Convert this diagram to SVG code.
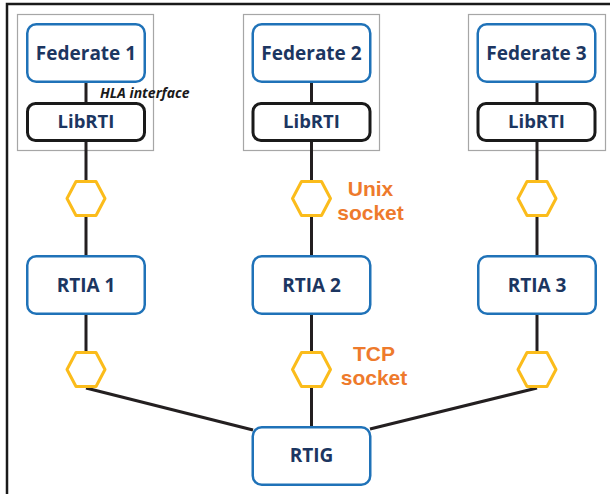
<svg xmlns="http://www.w3.org/2000/svg" width="610" height="494" viewBox="0 0 610 494">
<style>
.frame{fill:none;stroke:#1a1a1a;stroke-width:2.5}
.group{fill:#fff;stroke:#a6a6a6;stroke-width:1.2}
.fed{fill:#fff;stroke:#1f72b8;stroke-width:2.5}
.lib{fill:#fff;stroke:#1a1a1a;stroke-width:3}
.hex{fill:#fff;stroke:#fbbc1b;stroke-width:3;stroke-linejoin:round}
.conn{stroke:#231f20;stroke-width:3;fill:none}
.lbl{font-family:"Open Sans","Noto Sans",sans-serif;font-weight:bold;fill:#1c3661;text-anchor:middle}
.sock{font-family:"Liberation Sans",Arial,sans-serif;font-weight:bold;fill:#ee7a2c;font-size:21px;text-anchor:middle}
.hla{font-family:"Open Sans","Noto Sans",sans-serif;font-weight:bold;font-style:italic;font-size:14px;fill:#1a1a1a}
</style>
<defs>
<polygon id="hx" points="-19,0 -10,-17 10,-17 19,0 10,17 -10,17"/>
</defs>
<path class="frame" d="M7,494 V4 H610"/>
<g id="group1"><rect class="group" x="17.5" y="14.5" width="136" height="136"/></g>
<g id="group2"><rect class="group" x="243.5" y="14.5" width="136" height="136"/></g>
<g id="group3"><rect class="group" x="468.5" y="14.5" width="137" height="136"/></g>
<g id="connectors">
<line class="conn" x1="86" y1="83" x2="86" y2="255"/>
<line class="conn" x1="311.5" y1="83" x2="311.5" y2="255"/>
<line class="conn" x1="537" y1="83" x2="537" y2="255"/>
<line class="conn" x1="86" y1="315" x2="86" y2="388"/>
<line class="conn" x1="311.5" y1="315" x2="311.5" y2="426"/>
<line class="conn" x1="537" y1="315" x2="537" y2="388"/>
<line class="conn" x1="86" y1="388" x2="253" y2="430"/>
<line class="conn" x1="537" y1="388" x2="370" y2="429"/>
</g>
<g id="federate1"><rect class="fed" x="27.25" y="24.25" width="117.5" height="57.5" rx="9"/><text class="lbl" x="86" y="60" font-size="19">Federate 1</text></g>
<g id="federate2"><rect class="fed" x="252.75" y="24.25" width="117.5" height="57.5" rx="9"/><text class="lbl" x="311.5" y="60" font-size="19">Federate 2</text></g>
<g id="federate3"><rect class="fed" x="477.75" y="24.25" width="117.5" height="57.5" rx="9"/><text class="lbl" x="536.5" y="60" font-size="19">Federate 3</text></g>
<text class="hla" x="100" y="97.5">HLA interface</text>
<g id="librti1"><rect class="lib" x="27.5" y="103.5" width="117" height="37" rx="8"/><text class="lbl" x="86" y="128" font-size="18.5">LibRTI</text></g>
<g id="librti2"><rect class="lib" x="253" y="103.5" width="117" height="37" rx="8"/><text class="lbl" x="311.5" y="128" font-size="18.5">LibRTI</text></g>
<g id="librti3"><rect class="lib" x="478" y="103.5" width="117" height="37" rx="8"/><text class="lbl" x="536.5" y="128" font-size="18.5">LibRTI</text></g>
<g id="unix1"><use href="#hx" class="hex" x="86" y="198.5"/></g>
<g id="unix2"><use href="#hx" class="hex" x="311.5" y="198.5"/></g>
<g id="unix3"><use href="#hx" class="hex" x="537" y="198.5"/></g>
<g id="unixlabel"><text class="sock" x="370.5" y="196">Unix</text><text class="sock" x="370.5" y="220">socket</text></g>
<g id="rtia1"><rect class="fed" x="27.25" y="256.25" width="117.5" height="57.5" rx="9"/><text class="lbl" x="86" y="292" font-size="19">RTIA 1</text></g>
<g id="rtia2"><rect class="fed" x="252.75" y="256.25" width="117.5" height="57.5" rx="9"/><text class="lbl" x="311.5" y="292" font-size="19">RTIA 2</text></g>
<g id="rtia3"><rect class="fed" x="478.25" y="256.25" width="117.5" height="57.5" rx="9"/><text class="lbl" x="537" y="292" font-size="19">RTIA 3</text></g>
<g id="tcp1"><use href="#hx" class="hex" x="86" y="369.5"/></g>
<g id="tcp2"><use href="#hx" class="hex" x="311.5" y="369.5"/></g>
<g id="tcp3"><use href="#hx" class="hex" x="537" y="369.5"/></g>
<g id="tcplabel"><text class="sock" x="374" y="361">TCP</text><text class="sock" x="374" y="385">socket</text></g>
<g id="rtig"><rect class="fed" x="252.75" y="427.25" width="117.5" height="57.5" rx="9"/><text class="lbl" x="311.5" y="462" font-size="19">RTIG</text></g>
</svg>
